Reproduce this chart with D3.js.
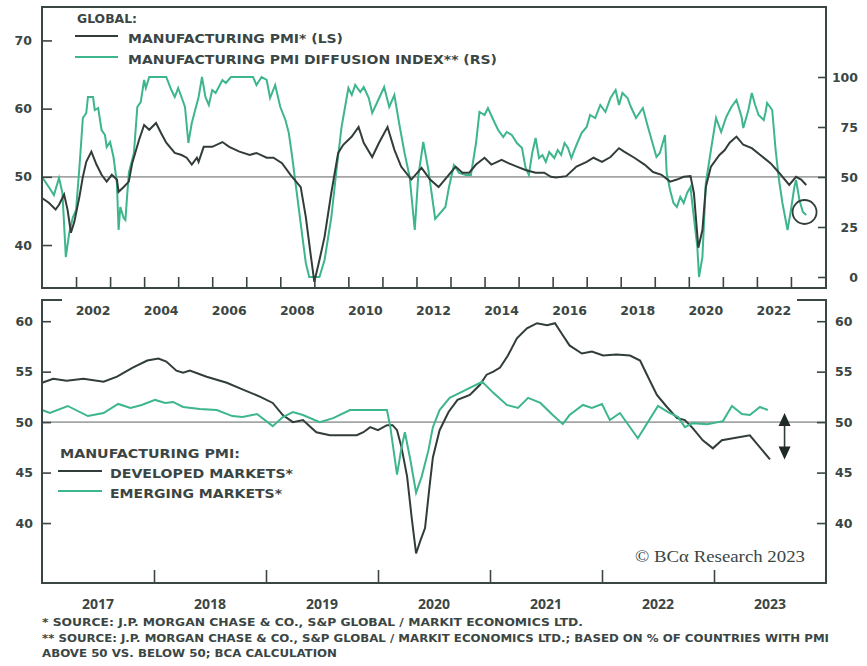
<!DOCTYPE html>
<html>
<head>
<meta charset="utf-8">
<script src="https://cdn.jsdelivr.net/npm/d3@7/dist/d3.min.js"></script>
<style>
  body { margin: 0; background: #fff; }
  text { fill: #3b4644; font-family: 'DejaVu Sans', sans-serif; font-weight: bold; }
</style>
</head>
<body>
<svg id="chart" width="867" height="666"></svg>
<script>
// ---- data ----
// top panel: global manufacturing PMI (left scale)
const pmiDates = [2001.0, 2001.2, 2001.4, 2001.5, 2001.65, 2001.75, 2001.85, 2001.95, 2002.1, 2002.2,
  2002.3, 2002.45, 2002.6, 2002.75, 2002.9, 2003.05, 2003.2, 2003.25, 2003.4, 2003.55,
  2003.65, 2003.85, 2004.0, 2004.15, 2004.35, 2004.5, 2004.65, 2004.9, 2005.1, 2005.25,
  2005.4, 2005.55, 2005.6, 2005.75, 2006.0, 2006.3, 2006.5, 2006.8, 2007.1, 2007.3,
  2007.6, 2007.8, 2008.05, 2008.3, 2008.6, 2008.75, 2008.9, 2009.0, 2009.15, 2009.3,
  2009.5, 2009.7, 2009.85, 2010.1, 2010.3, 2010.45, 2010.7, 2010.9, 2011.15, 2011.35,
  2011.55, 2011.85, 2012.15, 2012.4, 2012.65, 2012.95, 2013.15, 2013.35, 2013.55, 2013.75,
  2014.0, 2014.2, 2014.5, 2014.7, 2014.95, 2015.2, 2015.5, 2015.75, 2015.95, 2016.1,
  2016.4, 2016.7, 2017.0, 2017.2, 2017.45, 2017.7, 2017.95, 2018.1, 2018.4, 2018.7,
  2018.95, 2019.2, 2019.45, 2019.65, 2019.85, 2020.05, 2020.15, 2020.28, 2020.4, 2020.5,
  2020.65, 2020.9, 2021.05, 2021.2, 2021.4, 2021.6, 2021.85, 2022.1, 2022.4, 2022.65,
  2022.95, 2023.15, 2023.3, 2023.45];
const pmiValues = [46.9, 46.2, 45.2, 45.9, 47.4, 45.2, 41.8, 43.4, 47.1, 50.0,
  52.2, 53.7, 51.8, 50.3, 49.3, 50.3, 49.6, 47.8, 48.5, 49.3,
  52.0, 55.4, 57.6, 56.9, 57.9, 56.4, 55.0, 53.5, 53.2, 52.8,
  51.8, 52.8, 52.2, 54.4, 54.4, 55.1, 54.4, 53.7, 53.2, 53.5,
  52.8, 52.8, 52.0, 50.3, 48.5, 44.1, 38.3, 34.6, 37.8, 41.2,
  47.7, 53.5, 54.7, 55.9, 57.3, 55.0, 52.9, 55.0, 57.3, 54.0,
  51.5, 49.6, 51.3, 49.6, 48.5, 50.3, 51.5, 50.6, 50.6, 51.8,
  52.8, 51.8, 52.5, 52.0, 51.5, 51.0, 50.6, 50.6, 50.0, 49.9,
  50.1, 51.5, 52.2, 52.8, 52.2, 52.9, 54.2, 53.7, 52.8, 51.8,
  50.7, 50.3, 49.3, 49.6, 50.0, 50.1, 47.6, 39.6, 42.2, 48.5,
  51.5, 53.2, 53.9, 55.0, 55.9, 54.7, 54.2, 53.2, 52.0, 50.6,
  48.8, 50.0, 49.6, 48.8];

// top panel: PMI diffusion index (right scale)
const diffDates = [2001.0, 2001.2, 2001.35, 2001.5, 2001.6, 2001.7, 2001.8, 2001.9, 2002.0, 2002.1,
  2002.2, 2002.3, 2002.35, 2002.5, 2002.55, 2002.65, 2002.75, 2002.85, 2002.9, 2003.0,
  2003.1, 2003.2, 2003.25, 2003.3, 2003.4, 2003.45, 2003.55, 2003.7, 2003.8, 2003.9,
  2004.0, 2004.05, 2004.15, 2004.65, 2004.8, 2004.9, 2005.0, 2005.15, 2005.2, 2005.3,
  2005.4, 2005.6, 2005.7, 2005.8, 2005.9, 2006.0, 2006.1, 2006.3, 2006.4, 2006.55,
  2007.2, 2007.3, 2007.45, 2007.6, 2007.7, 2007.85, 2008.0, 2008.15, 2008.25, 2008.35,
  2008.5, 2008.65, 2008.75, 2008.85, 2009.15, 2009.3, 2009.5, 2009.65, 2009.8, 2010.0,
  2010.1, 2010.2, 2010.35, 2010.45, 2010.6, 2010.7, 2010.85, 2011.05, 2011.2, 2011.35,
  2011.5, 2011.65, 2011.8, 2011.95, 2012.05, 2012.2, 2012.35, 2012.55, 2012.85, 2012.95,
  2013.1, 2013.25, 2013.45, 2013.6, 2013.75, 2013.85, 2014.0, 2014.1, 2014.3, 2014.4,
  2014.55, 2014.65, 2014.8, 2014.95, 2015.1, 2015.2, 2015.3, 2015.4, 2015.5, 2015.6,
  2015.7, 2015.8, 2015.9, 2016.05, 2016.15, 2016.25, 2016.35, 2016.45, 2016.55, 2016.7,
  2016.85, 2017.0, 2017.1, 2017.25, 2017.4, 2017.55, 2017.7, 2017.85, 2017.95, 2018.05,
  2018.2, 2018.3, 2018.45, 2018.65, 2018.8, 2019.05, 2019.15, 2019.3, 2019.35, 2019.45,
  2019.55, 2019.65, 2019.75, 2019.85, 2019.95, 2020.05, 2020.1, 2020.25, 2020.3, 2020.4,
  2020.5, 2020.65, 2020.8, 2020.95, 2021.1, 2021.25, 2021.4, 2021.55, 2021.6, 2021.75,
  2021.85, 2021.95, 2022.05, 2022.2, 2022.25, 2022.3, 2022.45, 2022.55, 2022.65, 2022.75,
  2022.9, 2023.0, 2023.1, 2023.15, 2023.25, 2023.35, 2023.45];
const diffValues = [50, 45, 41, 49.5, 42, 10, 22, 29.5, 33.5, 55,
  79.5, 82, 90, 90, 83.5, 84.5, 73.5, 71, 65, 67.5,
  60, 47, 23.5, 35, 29.5, 28.5, 52, 62, 85, 87.5,
  98.5, 94.5, 100, 100, 93.5, 90, 94.5, 87.5, 85, 67,
  77, 90, 100, 90, 86, 93.5, 92, 98.5, 97, 100,
  100, 96, 100, 98.5, 89.5, 96, 85, 78.5, 72, 60,
  40, 20, 7, 0, 0, 8.5, 30, 53.5, 75, 94.5,
  91, 96, 92.5, 95, 89.5, 82, 87.5, 95, 85, 91,
  76, 62, 50, 23.5, 50, 67.5, 53.5, 29, 35, 44.5,
  56, 52, 51, 51, 67, 82.5, 81, 84.5, 77, 73.5,
  70, 72.5, 71, 67, 64.5, 55, 51, 62, 69.5, 59.5,
  61, 57.5, 62.5, 59.5, 63.5, 61, 67, 64.5, 59.5, 66,
  72, 75, 81, 79.5, 86, 82.5, 89.5, 93.5, 86, 92,
  89.5, 85, 79.5, 84.5, 75, 60, 62, 71, 52, 43.5,
  37, 35, 40, 37, 42, 45, 37, 15, 0, 10,
  47, 63.5, 79.5, 72.5, 80, 85, 88.5, 80, 74.5, 83.5,
  92, 86, 81, 78.5, 82, 87, 83.5, 63.5, 48.5, 37,
  23.5, 33.5, 45, 48.5, 38.5, 32.5, 31];

// bottom panel: developed markets PMI
const dmDates = [2017.0, 2017.1, 2017.22, 2017.37, 2017.55, 2017.67, 2017.81, 2017.94, 2018.04, 2018.11,
  2018.2, 2018.26, 2018.32, 2018.47, 2018.65, 2018.8, 2018.95, 2019.06, 2019.15, 2019.24,
  2019.33, 2019.39, 2019.45, 2019.57, 2019.69, 2019.81, 2019.87, 2019.93, 2020.0, 2020.08,
  2020.13, 2020.17, 2020.21, 2020.26, 2020.3, 2020.34, 2020.38, 2020.42, 2020.46, 2020.49,
  2020.55, 2020.63, 2020.71, 2020.82, 2020.91, 2020.97, 2021.03, 2021.09, 2021.16, 2021.24,
  2021.33, 2021.42, 2021.51, 2021.58, 2021.65, 2021.71, 2021.82, 2021.91, 2022.01, 2022.13,
  2022.25, 2022.34, 2022.41, 2022.49, 2022.58, 2022.67, 2022.74, 2022.81, 2022.9, 2022.99,
  2023.07, 2023.17, 2023.32, 2023.38, 2023.5];
const dmValues = [53.9, 54.3, 54.1, 54.3, 54.0, 54.5, 55.4, 56.1, 56.3, 56.0,
  55.1, 54.9, 55.1, 54.5, 53.9, 53.2, 52.5, 51.9, 50.7, 50.0,
  50.2, 49.6, 49.0, 48.7, 48.7, 48.7, 49.0, 49.5, 49.2, 49.7,
  49.7, 49.2, 47.5, 44.6, 40.6, 37.0, 38.3, 39.5, 43.6, 46.5,
  49.2, 51.0, 52.2, 52.7, 53.7, 54.7, 55.0, 55.4, 56.6, 58.3,
  59.3, 59.8, 59.6, 59.8, 58.6, 57.6, 56.8, 57.0, 56.6, 56.7,
  56.6, 56.1, 54.5, 52.7, 51.5, 50.4, 50.2, 49.4, 48.2, 47.4,
  48.2, 48.4, 48.7, 47.9, 46.3];

// bottom panel: emerging markets PMI
const emDates = [2017.0, 2017.07, 2017.23, 2017.41, 2017.55, 2017.68, 2017.79, 2017.89, 2018.01, 2018.1,
  2018.17, 2018.26, 2018.41, 2018.56, 2018.7, 2018.79, 2018.92, 2019.06, 2019.15, 2019.24,
  2019.33, 2019.48, 2019.6, 2019.75, 2019.9, 2020.08, 2020.11, 2020.17, 2020.21, 2020.24,
  2020.29, 2020.34, 2020.39, 2020.45, 2020.49, 2020.55, 2020.64, 2020.73, 2020.82, 2020.93,
  2021.03, 2021.15, 2021.25, 2021.34, 2021.45, 2021.56, 2021.65, 2021.71, 2021.83, 2021.91,
  2022.0, 2022.07, 2022.16, 2022.32, 2022.5, 2022.59, 2022.68, 2022.74, 2022.81, 2022.94,
  2023.08, 2023.16, 2023.25, 2023.32, 2023.41, 2023.48];
const emValues = [51.2, 50.9, 51.6, 50.6, 50.9, 51.8, 51.4, 51.7, 52.2, 51.9,
  52.0, 51.5, 51.3, 51.2, 50.6, 50.5, 50.8, 49.6, 50.5, 51.0,
  50.7, 50.0, 50.4, 51.2, 51.2, 51.2, 49.5, 44.8, 47.5, 49.0,
  46.2, 43.0, 44.6, 47.2, 49.5, 51.2, 52.4, 52.9, 53.4, 54.0,
  52.9, 51.7, 51.4, 52.4, 51.9, 50.7, 49.8, 50.7, 51.7, 51.4,
  51.8, 50.2, 50.9, 48.4, 51.6, 51.0, 50.5, 49.5, 49.9, 49.8,
  50.1, 51.6, 50.8, 50.7, 51.5, 51.2];

// axis labels
const topYearLabels = [2002, 2004, 2006, 2008, 2010, 2012, 2014, 2016, 2018, 2020, 2022];
const topYearTicks = d3.range(2002, 2024);
const bottomYearLabels = [2017, 2018, 2019, 2020, 2021, 2022, 2023];
const bottomYearTicks = [2018, 2019, 2020, 2021, 2022, 2023];
const topLeftTicks = [40, 50, 60, 70];
const topRightTicks = [0, 25, 50, 75, 100];
const bottomTicks = [40, 45, 50, 55, 60];

// ---- layout ----
const frameColor = '#3a4644';
const darkColor = '#323d3b';
const greenColor = '#3db68b';
const refColor = '#a3a6a5';
const left = 42, right = 826;
const top1 = 7, bottom1 = 288;
const top2 = 300, bottom2 = 583;

const svg = d3.select('#chart');

// scales
const xTop = d3.scaleLinear().domain([2001, 2024.03]).range([left, right]);
const yLeft = d3.scaleLinear().domain([33.7, 74.9]).range([bottom1, top1]);
const yRight = d3.scaleLinear().domain([-5.5, 135]).range([bottom1, top1]);
const xBot = d3.scaleLinear().domain([2017, 2024]).range([left, right]);
const yBot = d3.scaleLinear().domain([34.06, 62.1]).range([bottom2, top2]);

function styleAxis(g) {
  g.select('.domain').remove();
  g.selectAll('.tick line').attr('stroke', frameColor).attr('stroke-width', 1.6);
  g.selectAll('.tick text')
    .style('font-family', "'DejaVu Sans', sans-serif")
    .style('font-weight', 'bold')
    .style('font-size', '12.5px')
    .attr('fill', '#3b4644');
}

// ================= TOP PANEL =================
// reference line at 50
svg.append('line')
  .attr('x1', left).attr('x2', right)
  .attr('y1', yLeft(50)).attr('y2', yLeft(50))
  .attr('stroke', refColor).attr('stroke-width', 1.8);

const lineDiff = d3.line().x(d => xTop(d[0])).y(d => yRight(d[1]));
const linePmi = d3.line().x(d => xTop(d[0])).y(d => yLeft(d[1]));

svg.append('path')
  .datum(d3.zip(diffDates, diffValues))
  .attr('d', lineDiff)
  .attr('fill', 'none').attr('stroke', greenColor).attr('stroke-width', 2);

svg.append('path')
  .datum(d3.zip(pmiDates, pmiValues))
  .attr('d', linePmi)
  .attr('fill', 'none').attr('stroke', darkColor).attr('stroke-width', 2);

// circle on latest diffusion reading
svg.append('circle')
  .attr('cx', xTop(2023.4)).attr('cy', yRight(32.5)).attr('r', 12)
  .attr('fill', 'none').attr('stroke', darkColor).attr('stroke-width', 1.8);

// axes
svg.append('g')
  .attr('transform', `translate(${left},0)`)
  .call(d3.axisLeft(yLeft).tickValues(topLeftTicks).tickSizeInner(-10).tickSizeOuter(0).tickPadding(10))
  .call(styleAxis);

svg.append('g')
  .attr('transform', `translate(${right},0)`)
  .call(d3.axisRight(yRight).tickValues(topRightTicks).tickSizeInner(-8).tickSizeOuter(0).tickPadding(32))
  .call(styleAxis)
  .selectAll('.tick text').attr('text-anchor', 'end');

svg.append('g')
  .attr('transform', `translate(0,${bottom1})`)
  .call(d3.axisBottom(xTop).tickValues(topYearTicks).tickSizeInner(-11).tickSizeOuter(0).tickFormat(''))
  .call(styleAxis);

// year labels sit in the middle of each year
svg.append('g').selectAll('text')
  .data(topYearLabels)
  .enter()
  .append('text')
  .attr('x', d => xTop(d + 0.5))
  .attr('y', 315)
  .attr('text-anchor', 'middle')
  .style('font-size', '12.5px')
  .text(d => d);

// frame
svg.append('rect')
  .attr('x', left).attr('y', top1)
  .attr('width', right - left).attr('height', bottom1 - top1)
  .attr('fill', 'none').attr('stroke', frameColor).attr('stroke-width', 2);

// legend
svg.append('text').attr('x', 77).attr('y', 23).style('font-size', '12px')
  .attr('textLength', 60).attr('lengthAdjust', 'spacingAndGlyphs').text('GLOBAL:');
svg.append('line').attr('x1', 75).attr('x2', 118).attr('y1', 36).attr('y2', 36)
  .attr('stroke', darkColor).attr('stroke-width', 2);
svg.append('text').attr('x', 128).attr('y', 43).style('font-size', '12px')
  .attr('textLength', 215).attr('lengthAdjust', 'spacingAndGlyphs').text('MANUFACTURING PMI* (LS)');
svg.append('line').attr('x1', 75).attr('x2', 118).attr('y1', 57).attr('y2', 57)
  .attr('stroke', greenColor).attr('stroke-width', 2);
svg.append('text').attr('x', 128).attr('y', 64).style('font-size', '12px')
  .attr('textLength', 369).attr('lengthAdjust', 'spacingAndGlyphs').text('MANUFACTURING PMI DIFFUSION INDEX** (RS)');

// ================= BOTTOM PANEL =================
svg.append('line')
  .attr('x1', left).attr('x2', right)
  .attr('y1', yBot(50)).attr('y2', yBot(50))
  .attr('stroke', refColor).attr('stroke-width', 1.8);

const lineBot = d3.line().x(d => xBot(d[0])).y(d => yBot(d[1]));

svg.append('path')
  .datum(d3.zip(dmDates, dmValues))
  .attr('d', lineBot)
  .attr('fill', 'none').attr('stroke', darkColor).attr('stroke-width', 2);

svg.append('path')
  .datum(d3.zip(emDates, emValues))
  .attr('d', lineBot)
  .attr('fill', 'none').attr('stroke', greenColor).attr('stroke-width', 2);

// double arrow showing the DM / EM gap
const arrowX = xBot(2023.63);
const arrowTop = yBot(50.9), arrowBottom = yBot(46.3);
svg.append('line')
  .attr('x1', arrowX).attr('x2', arrowX)
  .attr('y1', arrowTop + 6).attr('y2', arrowBottom - 6)
  .attr('stroke', darkColor).attr('stroke-width', 1.6);
svg.append('path')
  .attr('d', `M${arrowX},${arrowTop} l-6,13 h12 z M${arrowX},${arrowBottom} l-6,-13 h12 z`)
  .attr('fill', '#1f2a28');

// axes
svg.append('g')
  .attr('transform', `translate(${left},0)`)
  .call(d3.axisLeft(yBot).tickValues(bottomTicks).tickSizeInner(-9).tickSizeOuter(0).tickPadding(9))
  .call(styleAxis);

svg.append('g')
  .attr('transform', `translate(${right},0)`)
  .call(d3.axisRight(yBot).tickValues(bottomTicks).tickSizeInner(-9).tickSizeOuter(0).tickPadding(9))
  .call(styleAxis);

svg.append('g')
  .attr('transform', `translate(0,${bottom2})`)
  .call(d3.axisBottom(xBot).tickValues(bottomYearTicks).tickSizeInner(-13).tickSizeOuter(0).tickFormat(''))
  .call(styleAxis);

svg.append('g').selectAll('text')
  .data(bottomYearLabels)
  .enter()
  .append('text')
  .attr('x', d => xBot(d + 0.5))
  .attr('y', 609)
  .attr('text-anchor', 'middle')
  .style('font-family', "'Open Sans', sans-serif")
  .style('font-size', '14px')
  .text(d => d);

// frame: open at the top where the upper panel's year labels sit
svg.append('path')
  .attr('d', `M${left + 20},${top2} H${left} V${bottom2} H${right} V${top2} H${right - 29}`)
  .attr('fill', 'none').attr('stroke', frameColor).attr('stroke-width', 2);

// legend
svg.append('text').attr('x', 60).attr('y', 458).style('font-size', '12px')
  .attr('textLength', 180).attr('lengthAdjust', 'spacingAndGlyphs').text('MANUFACTURING PMI:');
svg.append('line').attr('x1', 58).attr('x2', 102).attr('y1', 471).attr('y2', 471)
  .attr('stroke', darkColor).attr('stroke-width', 2);
svg.append('text').attr('x', 110).attr('y', 478).style('font-size', '12px')
  .attr('textLength', 183).attr('lengthAdjust', 'spacingAndGlyphs').text('DEVELOPED MARKETS*');
svg.append('line').attr('x1', 58).attr('x2', 102).attr('y1', 491).attr('y2', 491)
  .attr('stroke', greenColor).attr('stroke-width', 2);
svg.append('text').attr('x', 110).attr('y', 498).style('font-size', '12px')
  .attr('textLength', 172).attr('lengthAdjust', 'spacingAndGlyphs').text('EMERGING MARKETS*');

// copyright
svg.append('text').attr('x', 635).attr('y', 562)
  .style('font-family', "'Liberation Serif', 'DejaVu Serif', serif")
  .style('font-weight', 'normal')
  .style('font-size', '17px')
  .attr('textLength', 170).attr('lengthAdjust', 'spacingAndGlyphs')
  .text('© BCα Research 2023');

// ================= FOOTNOTES =================
const notes = [
  { text: '* SOURCE: J.P. MORGAN CHASE & CO., S&P GLOBAL / MARKIT ECONOMICS LTD.', y: 626, w: 541 },
  { text: '** SOURCE: J.P. MORGAN CHASE & CO., S&P GLOBAL / MARKIT ECONOMICS LTD.; BASED ON % OF COUNTRIES WITH PMI', y: 642, w: 787 },
  { text: 'ABOVE 50 VS. BELOW 50; BCA CALCULATION', y: 657, w: 295 }
];
svg.append('g').selectAll('text')
  .data(notes)
  .enter()
  .append('text')
  .attr('x', 42)
  .attr('y', d => d.y)
  .style('font-family', "'DejaVu Sans Condensed', 'DejaVu Sans', sans-serif")
  .style('font-size', '11px')
  .attr('textLength', d => d.w)
  .attr('lengthAdjust', 'spacingAndGlyphs')
  .text(d => d.text);
</script>
</body>
</html>
